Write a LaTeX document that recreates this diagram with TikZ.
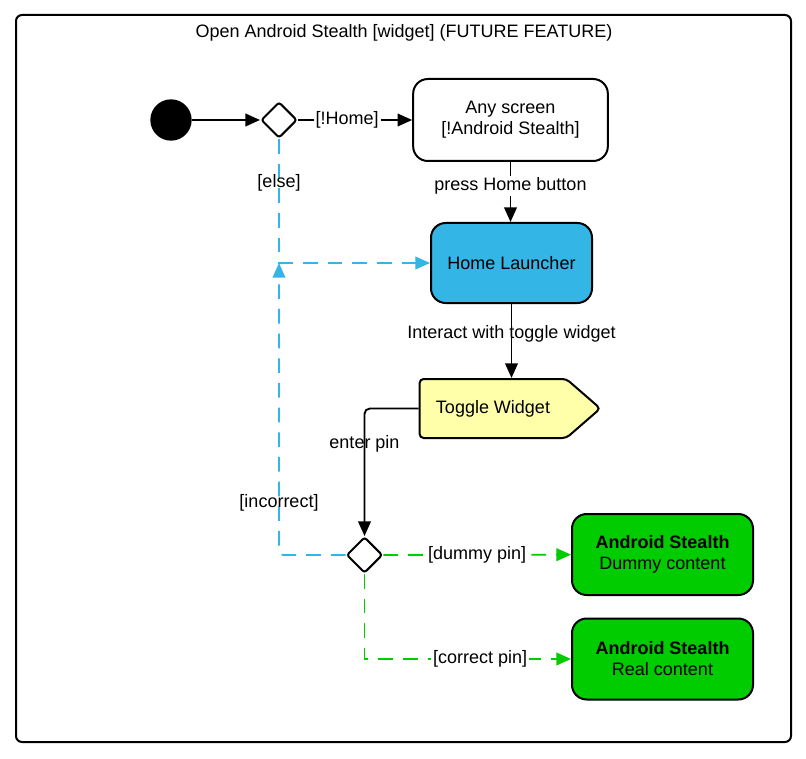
\documentclass[tikz,border=0pt]{standalone}
\usepackage{fontspec}
\setmainfont{Liberation Sans}
\usetikzlibrary{shapes.geometric,shapes.symbols,arrows.meta,positioning}

\definecolor{holoblue}{RGB}{51,181,229}
\definecolor{stealthgreen}{RGB}{0,204,0}
\definecolor{widgetyellow}{RGB}{255,255,170}

\tikzset{
	state/.style={draw, line width=1.5pt, rounded corners=11pt, align=center, inner sep=0pt},
	choice/.style={draw, diamond, aspect=1, line width=1.5pt, rounded corners=2pt, minimum size=27pt, inner sep=0pt, fill=white},
	flow/.style={line width=1.4pt, -{Triangle[length=11pt,width=9.5pt]}},
	blueflow/.style={flow, holoblue, dash pattern=on 11pt off 7.5pt},
	greenflow/.style={flow, stealthgreen, dash pattern=on 11pt off 7.5pt},
	guard/.style={text=black, inner sep=1.5pt},
	openguard/.style={guard, fill=white}
}

\begin{document}
\begin{tikzpicture}[x=0.75pt,y=-0.75pt,font=\fontsize{13.5}{15.75}\selectfont]
	\useasboundingbox (0,0) rectangle (806,759);
	\draw[line width=1.5pt, rounded corners=4.5pt] (16,15) rectangle (791,742);
	\node (title) at (404,33) {Open Android Stealth [widget] (FUTURE FEATURE)};
	
	\node[shape=circle, fill=black, minimum size=31pt, inner sep=0pt] (start) at (171,120) {};
	\node[choice] (d1) at (279,120) {};
	\node[state, minimum width=146pt, minimum height=61.5pt] (any) at (510.5,120) {Any screen\\{[!Android Stealth]}};
	\node[state, fill=holoblue, minimum width=120.75pt, minimum height=60pt] (launcher) at (511.5,263) {Home Launcher};
	\node[draw, line width=1.5pt, fill=widgetyellow, signal, signal to=east, signal pointer angle=82, rounded corners=3pt, minimum width=135.5pt, minimum height=44.25pt, inner sep=0pt] (toggle) at (493,408.5) {Toggle Widget};
	\node[choice] (d2) at (364.5,555) {};
	\node[state, fill=stealthgreen, minimum width=135.75pt, minimum height=60.75pt] (dummy) at (662.5,554.5) {\textbf{Android Stealth}\\Dummy content};
	\node[state, fill=stealthgreen, minimum width=135.75pt, minimum height=60.75pt] (real) at (662.5,659) {\textbf{Android Stealth}\\Real content};
	\coordinate (elsebend) at (d1 |- launcher);
	
	\draw[flow] (start) -- (d1);
	\draw[flow] (d1) -- node[openguard, pos=0.43] {[!Home]} (any);
	\draw[flow] (any.south) -- node[openguard, pos=0.4] {press Home button} (any.south |- launcher.north);
	\draw[flow] (launcher) -- node[guard, pos=0.41] {Interact with toggle widget} (launcher |- toggle.north);
	\draw[flow, rounded corners=4pt] (toggle.west) -| node[guard, pos=0.64] {enter pin} (d2.north);
	\draw[blueflow] (d1.south) |- node[guard, pos=0.176] {[else]} (launcher.west);
	\draw[blueflow, rounded corners=3pt] (d2.west) -| node[guard, pos=0.589] {[incorrect]} (elsebend);
	\draw[greenflow] (d2) -- node[openguard] {[dummy pin]} (dummy);
	\draw[greenflow] (d2.south) |- node[openguard, pos=0.78] {[correct pin]} (real.west);
\end{tikzpicture}
\end{document}
